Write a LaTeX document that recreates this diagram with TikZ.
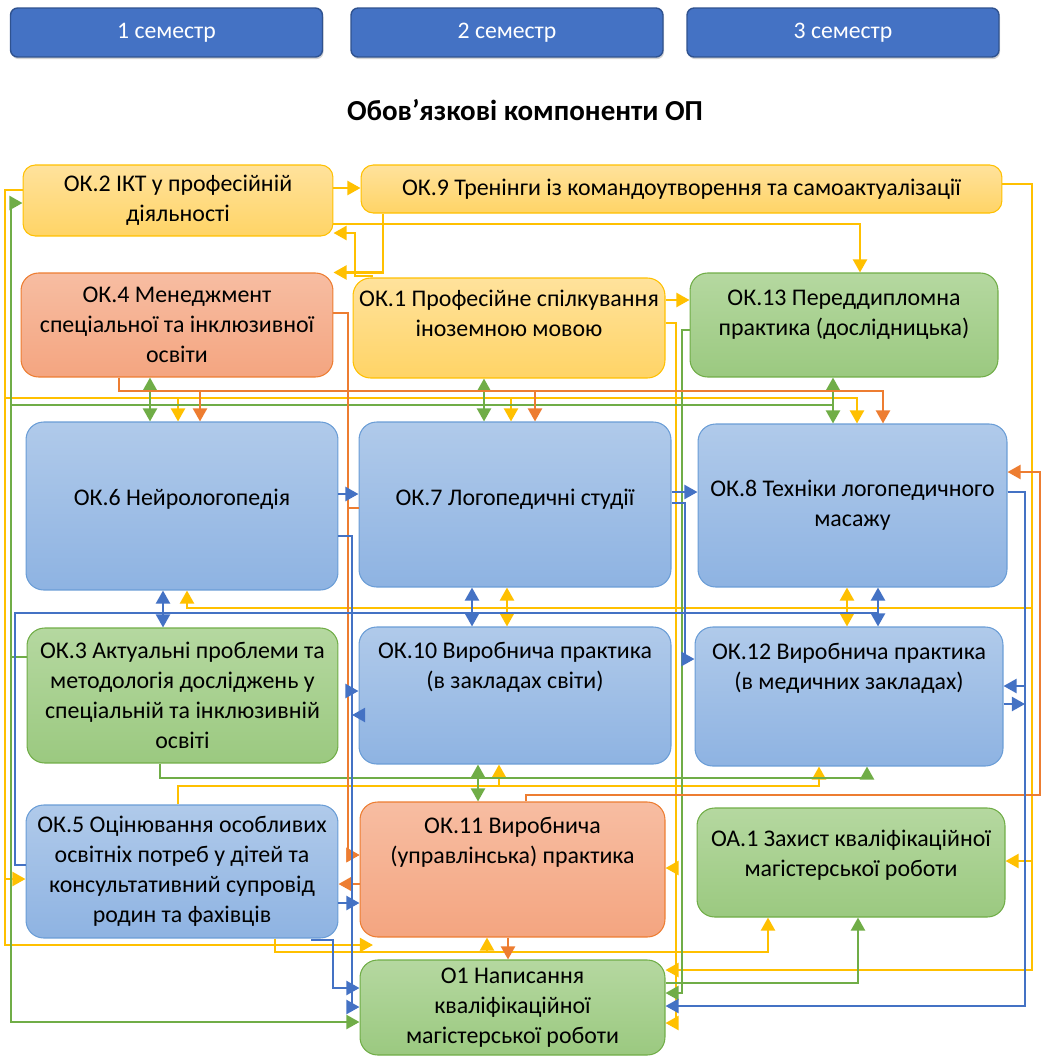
\documentclass[tikz,border=0pt]{standalone}
\usepackage{fontspec}
\setmainfont{Carlito}
\usepackage{tikz}
\usetikzlibrary{arrows.meta, shadows}

\definecolor{cY}{HTML}{FFC000}
\definecolor{cG}{HTML}{70AD47}
\definecolor{cO}{HTML}{ED7D31}
\definecolor{cB}{HTML}{4472C4}
\definecolor{semEdge}{HTML}{2F528F}
\definecolor{yTop}{HTML}{FFE29C}
\definecolor{yBot}{HTML}{FFD466}
\definecolor{oTop}{HTML}{F7BDA2}
\definecolor{oBot}{HTML}{F4A580}
\definecolor{gTop}{HTML}{B5D8A0}
\definecolor{gBot}{HTML}{9BC980}
\definecolor{bTop}{HTML}{B0CAEA}
\definecolor{bBot}{HTML}{8EB3E2}
\definecolor{bEdge}{HTML}{6A9DD6}

\newcommand{\vpush}[1]{\rule[-#1]{0pt}{#1}}

\begin{document}
\begin{tikzpicture}[x=0.02cm, y=-0.02cm, >={Triangle[length=7.5pt, width=8pt]},
            box/.style={draw, rectangle, rounded corners=10pt, align=center, line width=0.6pt,
                font=\fontsize{13.6}{17}\selectfont},
            ybox/.style={box, draw=cY, top color=yTop, bottom color=yBot},
            obox/.style={box, draw=cO, top color=oTop, bottom color=oBot},
            gbox/.style={box, draw=cG, top color=gTop, bottom color=gBot},
            bbox/.style={box, draw=bEdge, top color=bTop, bottom color=bBot},
            sem/.style={draw=semEdge, fill=cB, rounded corners=4pt, line width=0.8pt,
                minimum width=6.24cm, minimum height=0.98cm, text=white,
                font=\fontsize{13.5}{16}\selectfont,
                drop shadow={opacity=0.35, shadow xshift=0.6pt, shadow yshift=-1.2pt}},
            con/.style={->, line width=1.4pt},
            yl/.style={con, draw=cY},
            gr/.style={con, draw=cG},
            or/.style={con, draw=cO},
            bl/.style={con, draw=cB}]
            \useasboundingbox (0,0) rectangle (1043,1062);

            \node[sem] (sem1) at (166.5,32.5) {1 семестр};
            \node[sem] (sem2) at (507,32.5) {2 семестр};
            \node[sem] (sem3) at (843,32.5) {3 семестр};
            \node[font=\fontsize{16.5}{19}\selectfont\bfseries] (title) at (525,110) {Обов’язкові компоненти ОП};

            \node[ybox, rounded corners=7pt, minimum width=6.2cm, minimum height=1.42cm] (ok2) at (178,200.5) {ОК.2 ІКТ у професійній\\діяльності};
            \node[ybox, rounded corners=7pt, minimum width=12.82cm, minimum height=0.96cm] (ok9) at (681.5,189) {ОК.9 Тренінги із командоутворення та самоактуалізації};
            \node[obox, minimum width=6.24cm, minimum height=2.08cm] (ok4) at (177,325) {ОК.4 Менеджмент\\спеціальної та інклюзивної\\освіти};
            \node[ybox, minimum width=6.24cm, minimum height=2cm] (ok1) at (509,328) {ОК.1 Професійне спілкування\\іноземною мовою\vpush{17pt}};
            \node[gbox, minimum width=6.16cm, minimum height=2.08cm] (ok13) at (844,325) {ОК.13 Переддипломна\\практика (дослідницька)\vpush{14pt}};
            \node[bbox, minimum width=6.24cm, minimum height=3.36cm] (ok6) at (182,506) {ОК.6 Нейрологопедія\vpush{10pt}};
            \node[bbox, minimum width=6.24cm, minimum height=3.3cm] (ok7) at (515,504.5) {ОК.7 Логопедичні студії\vpush{8pt}};
            \node[bbox, minimum width=6.18cm, minimum height=3.26cm] (ok8) at (852.5,505.5) {ОК.8 Техніки логопедичного\\масажу};
            \node[gbox, minimum width=6.22cm, minimum height=2.7cm] (ok3) at (182.5,695.5) {ОК.3 Актуальні проблеми та\\методологія досліджень у\\спеціальній та інклюзивній\\освіті};
            \node[bbox, minimum width=6.24cm, minimum height=2.74cm] (ok10) at (515,695.5) {ОК.10 Виробнича практика\\(в закладах світи)\vpush{34pt}};
            \node[bbox, minimum width=6.16cm, minimum height=2.78cm] (ok12) at (849,696.5) {ОК.12 Виробнича практика\\(в медичних закладах)\vpush{34pt}};
            \node[bbox, minimum width=6.24cm, minimum height=2.66cm] (ok5) at (182,871.5) {ОК.5 Оцінювання особливих\\освітніх потреб у дітей та\\консультативний супровід\\родин та фахівців};
            \node[obox, minimum width=6.1cm, minimum height=2.7cm] (ok11) at (512.5,869.5) {ОК.11 Виробнича\\(управлінська) практика\vpush{33pt}};
            \node[gbox, minimum width=6.16cm, minimum height=2.18cm] (oa1) at (851,862.5) {ОА.1 Захист кваліфікаційної\\магістерської роботи\vpush{11pt}};
            \node[gbox, minimum width=6.1cm, minimum height=1.9cm] (o1) at (512.5,1007.5) {О1 Написання\\кваліфікаційної\\магістерської роботи};

            \coordinate (ok11in) at (373,945);
            \coordinate (g8in) at (833,405);
            \coordinate (b12in) at (878,613);
            \coordinate (lbus) at (352,715);
            \coordinate (rbus) at (1025,704);

            \draw[yl] (ok2.east |- 0,188) -- (ok9.west |- 0,188);
            \draw[yl] (ok2.west |- 0,190) -| (5,398) -| (ok6.north -| 178,0);
            \draw[yl] (ok2.west |- 0,190) -| (5,398) -| (ok7.north -| 511,0);
            \draw[yl] (ok2.west |- 0,190) -| (5,398) -| (ok8.north -| 857,0);
            \draw[yl] (ok2.west |- 0,190) -| (5,879) -- (ok5.west |- 0,879);
            \draw[yl] (ok2.west |- 0,190) -| (5,945) -- (ok11in);
            \draw[yl] (ok2.east |- 0,224) -| (ok13.north -| 860,0);
            \draw[yl] (ok9.south -| 383,0) |- (ok4.north east);
            \draw[yl] (ok1.north -| 372,0) |- (355,276) |- (ok2.east |- 0,233);
            \draw[yl] (ok9.east |- 0,184) -| (1032,608) -| (ok6.south -| 187,0);
            \draw[yl] (ok9.east |- 0,184) -| (1032,861) -- (oa1.east |- 0,861);
            \draw[yl] (ok9.east |- 0,184) -| (1032,970) -- (o1.east |- 0,970);
            \draw[yl, <->] (ok7.south -| 507,0) -- (ok10.north -| 507,0);
            \draw[yl, <->] (ok8.south -| 847,0) -- (ok12.north -| 847,0);
            \draw[yl] (ok1.east |- 0,300) -- (ok13.west |- 0,300);
            \draw[yl] (ok1.east |- 0,323) -| (676,868) -- (ok11.east |- 0,868);
            \draw[yl] (ok1.east |- 0,323) -| (676,1023) -- (o1.east |- 0,1023);
            \draw[yl] (ok5.north -| 178,0) |- (499,786) -- (ok10.south -| 499,0);
            \draw[yl] (ok5.north -| 178,0) |- (819,786) -- (ok12.south -| 819,0);
            \draw[yl] (ok5.south -| 275,0) |- (487,952) -- (ok11.south -| 487,0);
            \draw[yl] (ok5.south -| 275,0) |- (768,952) -- (oa1.south -| 768,0);

            \draw[gr, <->] (ok4.south -| 150,0) -- (ok6.north -| 150,0);
            \draw[gr, <->] (ok1.south -| 484,0) -- (ok7.north -| 484,0);
            \draw[gr, <->] (ok13.south -| 833,0) -- (ok8.north -| 833,0);
            \draw[gr, <->] (ok10.south -| 478,0) -- (ok11.north -| 478,0);
            \draw[gr] (ok3.west |- 0,657) -| (11,203) -- (ok2.west |- 0,203);
            \draw[gr] (ok3.west |- 0,657) -| (11,1022) -- (o1.west |- 0,1022);
            \draw[gr, -] (ok3.west |- 0,657) -| (11,405) -- (g8in);
            \draw[gr] (ok3.south -| 160,0) |- (867,778) -- (ok12.south -| 867,0);
            \draw[gr] (ok13.west |- 0,330) -| (682,993) -- (o1.east |- 0,993);
            \draw[gr] (o1.east |- 0,983) -| (oa1.south -| 858,0);

            \draw[or] (ok4.south -| 119,0) -- (119,391) -| (ok6.north -| 200,0);
            \draw[or] (ok4.south -| 119,0) -- (119,391) -| (ok7.north -| 535,0);
            \draw[or] (ok4.south -| 119,0) -- (119,391) -| (ok8.north -| 883,0);
            \draw[or] (ok4.east |- 0,313) -| (348,855) -- (ok11.west |- 0,855);
            \draw[or] (ok7.west |- 0,508) -| (348,855) -- (ok11.west |- 0,855);
            \draw[or] (ok11.west |- 0,884) -- (ok5.east |- 0,884);
            \draw[or] (ok11.north -| 526,0) |- (1040,795) |- (ok8.east |- 0,472);
            \draw[or] (ok11.south -| 508,0) -- (o1.north -| 508,0);

            \draw[bl, <->] (ok6.south -| 163,0) -- (ok3.north -| 163,0);
            \draw[bl, <->] (ok7.south -| 472,0) -- (ok10.north -| 472,0);
            \draw[bl, <->] (ok8.south -| 878,0) -- (ok12.north -| 878,0);
            \draw[bl, -] (ok5.west |- 0,865) -| (15,613) -- (b12in);
            \draw[bl] (ok6.east |- 0,494) -- (ok7.west |- 0,494);
            \draw[bl] (ok6.east |- 0,536) -| (352,691) -- (ok10.west |- 0,691);
            \draw[bl] (ok6.east |- 0,536) -| (352,1007) -- (o1.west |- 0,1007);
            \draw[bl] (ok10.west |- 0,715) -- (lbus);
            \draw[bl] (ok5.east |- 0,903) -- (ok11.west |- 0,903);
            \draw[bl] (ok5.south -| 312,0) |- (333,940) |- (o1.west |- 0,988);
            \draw[bl] (ok7.east |- 0,492) -- (ok8.west |- 0,492);
            \draw[bl] (ok7.east |- 0,503) -| (685,659) -- (ok12.west |- 0,659);
            \draw[bl] (ok8.east |- 0,492) -| (1025,686) -- (ok12.east |- 0,686);
            \draw[bl] (ok8.east |- 0,492) -| (1025,1006) -- (o1.east |- 0,1006);
            \draw[bl] (ok12.east |- 0,704) -- (rbus);
        \end{tikzpicture}
\end{document}
